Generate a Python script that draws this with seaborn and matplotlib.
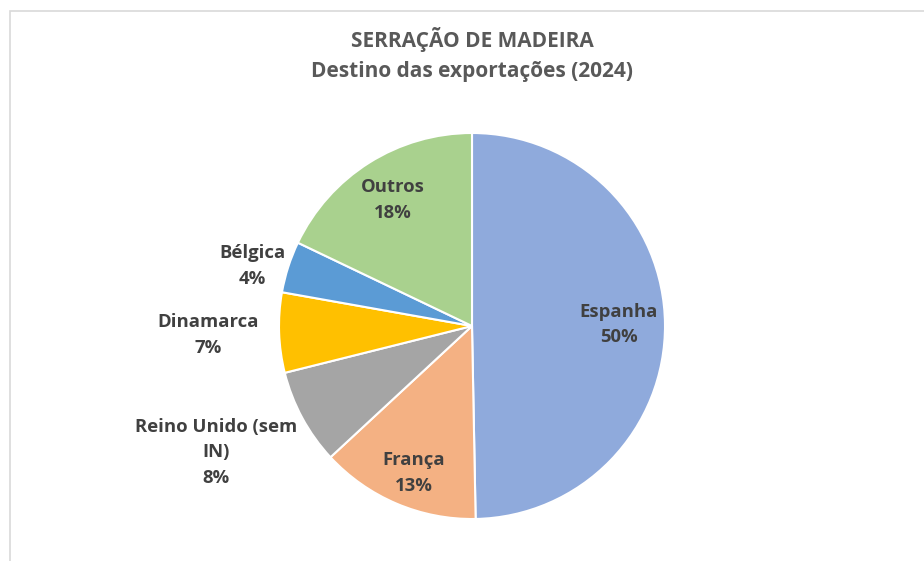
import numpy as np
import matplotlib
matplotlib.use("Agg")
import matplotlib.pyplot as plt
import seaborn as sns
from matplotlib.patches import Rectangle

# data (share of exports, %)
paises = ["Espanha", "França", "Reino Unido (sem\nIN)", "Dinamarca", "Bélgica", "Outros"]
valores = [49.7, 13.4, 8.0, 6.7, 4.3, 17.9]
cores = ["#8FAADC", "#F4B183", "#A5A5A5", "#FFC000", "#5B9BD5", "#A9D18E"]
# label placement: radial distance and small angle nudge (deg)
dist_label = [0.76, 0.82, 1.48, 1.37, 1.18, 0.77]
nudge_label = [0, 1.5, -2.2, 0, 2.5, 0]

sns.set_theme(style="white")
plt.rcParams["font.family"] = ["Open Sans", "DejaVu Sans"]

fig = plt.figure(figsize=(9.24, 5.61), dpi=100)
fig.patch.set_facecolor("white")

# chart frame
fig.patches.append(Rectangle((10 / 924, -0.1), 1.2, (561 - 11) / 561 + 0.1,
                             transform=fig.transFigure, fill=False,
                             edgecolor="#D9D9D9", linewidth=1.2))

r_px = 193
ax = fig.add_axes([(472 - r_px) / 924, (235 - r_px) / 561, 2 * r_px / 924, 2 * r_px / 561])
wedges, _ = ax.pie(valores, colors=cores, startangle=90, counterclock=False,
                   radius=1, wedgeprops=dict(edgecolor="white", linewidth=1.5))
ax.set_xlim(-1, 1)
ax.set_ylim(-1, 1)
ax.axis("off")

total = sum(valores)
for w, nome, v, d, n in zip(wedges, paises, valores, dist_label, nudge_label):
    ang = np.deg2rad((w.theta1 + w.theta2) / 2 + n)
    x, y = d * np.cos(ang), d * np.sin(ang)
    ax.text(x, y, f"{nome}\n{round(v / total * 100)}%", ha="center", va="center",
            fontsize=13.3, fontweight="bold", color="#404040", linespacing=1.55,
            clip_on=False)

fig.text(472 / 924, 1 - 40 / 561, "SERRAÇÃO DE MADEIRA", ha="center", va="center",
         fontsize=15, fontweight="bold", color="#595959")
fig.text(472 / 924, 1 - 71 / 561, "Destino das exportações (2024)", ha="center", va="center",
         fontsize=15, fontweight="bold", color="#595959")

fig.savefig("out.png", dpi=100)
